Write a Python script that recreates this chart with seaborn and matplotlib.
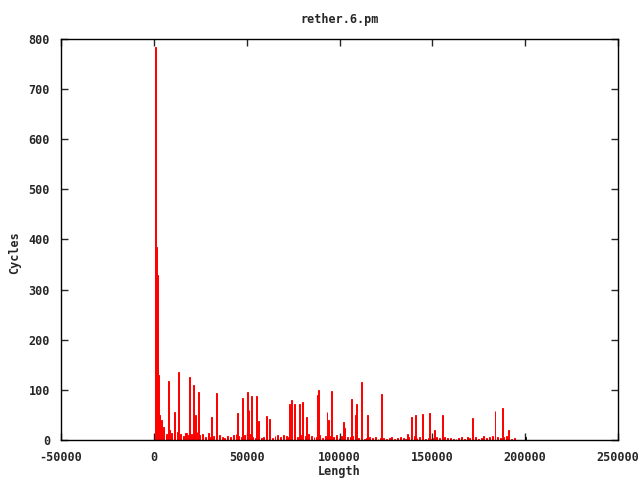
import numpy as np
import pandas as pd
import matplotlib
matplotlib.use("Agg")
import matplotlib.pyplot as plt
import seaborn as sns

title = "rether.6.pm"
xlabel = "Length"
ylabel = "Cycles"

# major spikes (Length, Cycles)
spike_len = [650, 1200, 1700, 2260, 2800, 3340, 4150, 7650, 11000, 13000, 17500,
             19000, 21100, 22000, 24300, 31300, 33900, 45300, 47900, 50000, 51300,
             52700, 55000, 56300, 60800, 62000, 73000, 74400, 75700, 78400, 80000,
             82400, 88100, 88600, 93400, 94000, 95600, 102100, 102600, 106000,
             108700, 109300, 111600, 115000, 122500, 122900, 136700, 138700,
             140800, 144600, 148400, 151400, 155400, 171500, 183900, 187700, 191300]
spike_cyc = [785, 385, 330, 220, 130, 50, 40, 118, 46, 136, 14,
             126, 110, 50, 96, 46, 90, 54, 84, 88, 60,
             88, 88, 30, 42, 38, 72, 72, 60, 72, 72,
             46, 90, 100, 56, 40, 98, 36, 20, 82,
             46, 72, 110, 50, 63, 28, 12, 42,
             50, 48, 54, 20, 48, 40, 54, 63, 15]

# low-level background, sampled every 1500 from 5000
bg_len = list(range(5000, 200000, 1500))
bg_cyc = [25, 12, 20, 14, 9, 16, 11, 8, 13, 10, 12, 7, 15, 9, 11, 6, 14,
          5, 8, 4, 9, 6, 3, 7, 5, 10, 12, 8, 6, 9, 7, 11, 5, 4, 8, 3, 6,
          5, 3, 4, 7, 9, 6, 10, 8, 5, 7, 12, 6, 9, 4, 8, 11, 7, 5, 6, 9,
          4, 7, 5, 8, 6, 10, 4, 7, 3, 5, 6, 8, 4, 3, 5, 2, 4, 6, 3, 5,
          2, 4, 3, 1, 3, 5, 2, 4, 6, 3, 2, 5, 4, 7, 3, 5, 4, 2, 3, 1,
          4, 6, 3, 2, 5, 3, 4, 2, 1, 3, 5, 2, 6, 4, 3, 5, 2, 4, 7, 3,
          5, 8, 4, 6, 3, 5, 7, 4, 2, 3]

black_len = [200400]
black_cyc = [6]

xticks = [-50000, 0, 50000, 100000, 150000, 200000, 250000]
yticks = [0, 100, 200, 300, 400, 500, 600, 700, 800]

n = min(len(bg_len), len(bg_cyc))
df = pd.DataFrame({"Length": spike_len + bg_len[:n],
                   "Cycles": spike_cyc + bg_cyc[:n]})

sns.set_style("white")
plt.rcParams['font.family'] = ['DejaVu Sans Mono']
plt.rcParams['font.weight'] = 'bold'

fig = plt.figure(figsize=(6.4, 4.8), dpi=100)
ax = fig.add_axes([61/640, 40/480, 557/640, 401/480])

sns.histplot(data=df, x="Length", weights="Cycles", binwidth=500,
             binrange=(0, 202000), color="#ff0000", alpha=1.0,
             edgecolor="#ff0000", linewidth=0.7, ax=ax)
sns.histplot(x=black_len, weights=black_cyc, binwidth=500,
             binrange=(200000, 201000), color="black",
             alpha=1.0, edgecolor="black", linewidth=0.5, ax=ax)

ax.set_xlim(-50000, 250000)
ax.set_ylim(0, 800)
ax.set_xticks(xticks)
ax.set_yticks(yticks)
ax.set_xticklabels([str(v) for v in xticks], fontsize=8.5, fontweight='bold')
ax.set_yticklabels([str(v) for v in yticks], fontsize=8.5, fontweight='bold')
ax.tick_params(direction='in', length=5, width=1, top=True, right=True,
               bottom=True, left=True, pad=8)
for s in ax.spines.values():
    s.set_color("black")
    s.set_linewidth(1)
ax.set_xlabel("")
ax.set_ylabel("")
fig.text(339/640, 1 - 472/480, xlabel, ha='center', va='center',
         fontsize=8.5, fontweight='bold')
fig.text(15/640, 1 - 253/480, ylabel, ha='center', va='center',
         rotation=90, fontsize=8.5, fontweight='bold')
fig.text(340/640, 1 - 19/480, title, ha='center', va='center',
         fontsize=8.5, fontweight='bold')

fig.savefig("out.png", dpi=100)
